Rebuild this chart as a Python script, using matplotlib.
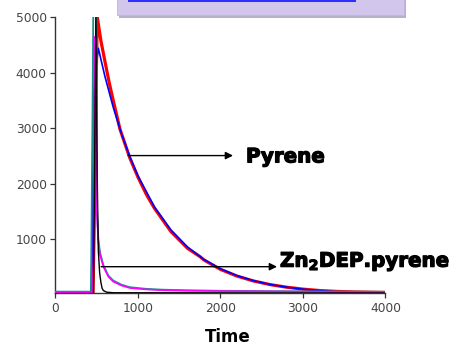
import matplotlib
matplotlib.use("Agg")
import matplotlib.pyplot as plt
import matplotlib.patheffects as pe
from matplotlib.patches import Rectangle
from matplotlib.lines import Line2D

# ---- data ----
red_t = [0, 455, 475, 492, 507, 550, 600, 650, 700, 782, 900, 1000, 1105, 1200, 1400,
         1600, 1752, 1800, 2000, 2200, 2400, 2600, 2800, 3000, 3200, 3400, 3600, 3800, 4000]
red_y = [35, 35, 1800, 3800, 5000, 4580, 4200, 3830, 3500, 2984, 2470, 2120, 1800, 1560, 1140,
         840, 690, 630, 460, 340, 252, 187, 140, 105, 80, 65, 55, 50, 45]

blue_t = [0, 430, 445, 455, 470, 490, 519, 600, 700, 800, 900, 1000, 1200, 1400, 1600,
          1800, 2000, 2200, 2400, 2600, 2800, 3000, 3200, 3400, 3520]
blue_y = [35, 35, 800, 3300, 3700, 4100, 4443, 3930, 3377, 2903, 2494, 2144, 1584, 1170, 864,
          638, 471, 348, 257, 190, 140, 104, 77, 57, 50]

teal_t = [0, 430, 450, 458, 495, 502, 519, 540, 580, 640, 700, 800, 900, 1100, 1300,
          1600, 2000, 2500, 3000, 3500, 4000]
teal_y = [60, 60, 3500, 5100, 5100, 1600, 1010, 760, 540, 350, 260, 185, 140, 110, 95,
          85, 75, 70, 65, 60, 58]

magenta_t = [0, 450, 462, 470, 492, 500, 519, 540, 580, 640, 700, 800, 903, 1100, 1300,
             1600, 2000, 2500, 3000, 3500, 4000]
magenta_y = [40, 40, 600, 4650, 4600, 1500, 964, 720, 512, 330, 240, 170, 125, 100, 85,
             75, 70, 65, 60, 58, 55]

black_t = [0, 460, 475, 490, 505, 519, 535, 550, 565, 580, 620, 700, 4000]
black_y = [25, 25, 2500, 5100, 2200, 800, 400, 230, 120, 80, 50, 40, 35]

x_ticks = [0, 1000, 2000, 3000, 4000]
y_ticks = [1000, 2000, 3000, 4000, 5000]

pyrene_arrow = (880, 2510, 2152)      # x start, y, x end
zn_arrow = (553, 509, 2685)

W, H = 460, 347
fig = plt.figure(figsize=(W / 100, H / 100), dpi=100)
fig.patch.set_facecolor("white")
plt.rcParams["mathtext.fontset"] = "dejavusans"

ax = fig.add_axes([55.5 / W, 1 - 293.3 / H, 330 / W, 276 / H])

ax.plot(red_t, red_y, color="#ff0000", lw=2.3, zorder=2)
ax.plot(blue_t, blue_y, color="#0000ff", lw=1.2, zorder=3)
ax.plot(teal_t, teal_y, color="#1a8f8f", lw=1.3, zorder=4)
ax.plot(magenta_t, magenta_y, color="#ff00ff", lw=1.2, zorder=5)
ax.plot(black_t, black_y, color="black", lw=1.0, zorder=6)

ax.set_xlim(0, 4000)
ax.set_ylim(30, 5000)
ax.set_xticks(x_ticks)
ax.set_yticks(y_ticks)
for s in ["top", "right"]:
    ax.spines[s].set_visible(False)
for s in ["left", "bottom"]:
    ax.spines[s].set_color("#333333")
    ax.spines[s].set_linewidth(1.0)
ax.tick_params(axis="both", direction="out", length=3.8, width=0.9, color="#333333",
               labelsize=8.8, labelcolor="#454545")
ax.tick_params(axis="y", pad=2.5)
ax.tick_params(axis="x", pad=2.2)

ax.set_xlabel("Time", fontsize=12, fontweight="bold", color="black")
ax.xaxis.set_label_coords((228 - 55.5) / 330, (293.3 - 336.5) / 276)
ax.xaxis.label.set_va("center")

arrowprops = dict(arrowstyle="-|>", mutation_scale=11, lw=1.0, color="black",
                  shrinkA=0, shrinkB=0)
ax.annotate("", xy=(pyrene_arrow[2], pyrene_arrow[1]), xytext=(pyrene_arrow[0], pyrene_arrow[1]),
            arrowprops=arrowprops, zorder=7)
ax.annotate("", xy=(zn_arrow[2], zn_arrow[1]), xytext=(zn_arrow[0], zn_arrow[1]),
            arrowprops=arrowprops, zorder=7)

heavy = [pe.withStroke(linewidth=0.9, foreground="black")]
ax.text(2309, 2486, "Pyrene", fontsize=14.3, fontweight="bold", ha="left", va="center",
        clip_on=False, path_effects=heavy)
ax.text(2721, 509, r"Zn$_\mathbf{2}$DEP.pyrene", fontsize=14.3, fontweight="bold",
        ha="left", va="baseline", clip_on=False, path_effects=heavy)

# banner at top (cut off)
fig.patches.append(Rectangle((119 / W, 1 - 17.5 / H), 287 / W, 20 / H, transform=fig.transFigure,
                             facecolor="#b8b0c4", edgecolor="none", zorder=0))
fig.patches.append(Rectangle((117 / W, 1 - 15 / H), 287 / W, 20 / H, transform=fig.transFigure,
                             facecolor="#d3c6ec", edgecolor="#c2b4e0", lw=0.6, zorder=1))
fig.lines.append(Line2D([129 / W, 355 / W], [1 - 1.2 / H, 1 - 1.2 / H], transform=fig.transFigure,
                        color="#2a2aff", lw=1.4, zorder=2))

fig.savefig("out.png", dpi=100)
